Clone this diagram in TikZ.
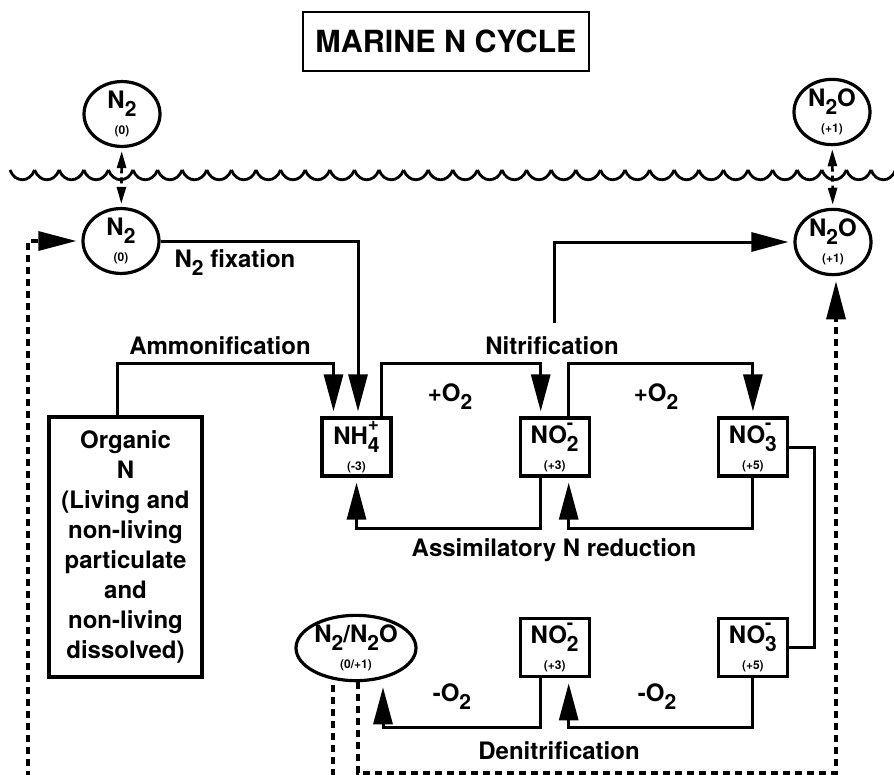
\documentclass[tikz,border=0pt]{standalone}
\usepackage{fontspec}
\setmainfont{TeX Gyre Heros}
\usepackage{tikz}
\usetikzlibrary{positioning}
\usetikzlibrary{shapes.geometric,arrows.meta}

\newcommand{\chem}[2]{#1\\[-4pt]{\fontsize{12}{12}\selectfont #2}}
\newcommand{\sub}[1]{\raisebox{-8pt}{\fontsize{21}{21}\selectfont #1}}
\newcommand{\ion}[2]{\rlap{\raisebox{14pt}{\fontsize{19}{19}\selectfont #2}}\sub{#1}}

\begin{document}
\begin{tikzpicture}[x=1pt, y=-1pt, font=\bfseries\fontsize{24}{30}\selectfont,
    main/.style = {draw, rectangle, line width=3.2pt, minimum width=69pt, minimum height=58pt, inner sep=0pt, align=center},
    gas/.style = {draw, ellipse, line width=3.2pt, minimum width=76pt, minimum height=56pt, inner sep=0pt, align=center},
    proc/.style = {inner sep=0pt},
    conn/.style = {line width=3pt},
    flow/.style = {line width=3pt, -{Triangle[length=37pt,width=19pt]}, shorten >=5pt},
    dline/.style = {line width=3.2pt, dash pattern=on 7pt off 5pt},
    dflow/.style = {dline, -{Triangle[length=38pt,width=19pt]}, shorten >=5pt},
    exch/.style = {line width=2.6pt, dash pattern=on 6pt off 4pt, {Triangle[length=17pt,width=9pt]}-{Triangle[length=17pt,width=9pt]}, shorten <=3pt, shorten >=3pt}]
\useasboundingbox (0,0) rectangle (894,774);
% Sea surface
\foreach \i [evaluate=\i as \wx using 10+24.6*\i] in {0,...,35}
    \draw[line width=2.8pt] (\wx,170) .. controls (\wx+5,183) and (\wx+19.6,183) .. (\wx+24.6,170);
% Nodes
\node[draw, line width=2.8pt, minimum width=286pt, minimum height=59pt, font=\bfseries\fontsize{30.5}{32}\selectfont] (title) at (446,41.5) {MARINE N CYCLE};
\node[gas, minimum height=54pt] (n2up) at (122,114) {\chem{N\sub{2}}{(0)}};
\node[gas, minimum height=54pt] (n2oup) at (832,112) {\chem{N\sub{2}O}{(+1)}};
\node[gas, minimum height=59pt] (n2) at (121,241) {\chem{N\sub{2}}{(0)}};
\node[gas, minimum height=59pt] (n2o) at (833,242) {\chem{N\sub{2}O}{(+1)}};
\node[main] (nh4) at (356.5,447) {\chem{NH\ion{4}{+}}{(-3)}};
\node[main] (no2) [right=126pt of nh4] {\chem{NO\ion{2}{-}}{(+3)}};
\node[main] (no3) [right=126pt of no2] {\chem{NO\ion{3}{-}}{(+5)}};
\node[main] (no2d) [below=139.5pt of no2] {\chem{NO\ion{2}{-}}{(+3)}};
\node[main] (no3d) [below=139.5pt of no3] {\chem{NO\ion{3}{-}}{(+5)}};
\node[gas, minimum width=120pt, minimum height=60pt] (n2mix) at (356,648) {\chem{N\sub{2}/N\sub{2}O}{(0/+1)}};
\node[main, minimum width=153pt, minimum height=260pt] (org) at (125.5,547) {Organic\\N\\(Living and\\non-living\\particulate\\and\\non-living\\dissolved)};
% Labels
\node[proc] (ammon) at (220,346) {Ammonification};
\node[proc] (nitr) at (552,346) {Nitrification};
\node[proc] (fix) at (235,263) {N\sub{2} fixation};
\node[proc] (ox1) at (450,397) {+O\sub{2}};
\node[proc] (ox2) at (656,397) {+O\sub{2}};
\node[proc] (assim) at (554,550) {Assimilatory N reduction};
\node[proc] (red1) at (452,697) {-O\sub{2}};
\node[proc] (red2) at (657,697) {-O\sub{2}};
\node[proc] (denit) at (559,751) {Denitrification};
\coordinate (nitrtop) at (554,323);
\coordinate (leftend) at (28,790);
\coordinate (mixend) at (333,790);
\coordinate (botcorner) at (836,773);
% Edges
\draw[exch] (n2up) -- (n2);
\draw[exch] (n2oup) -- (n2o);
\draw[flow] (n2.east) -| ([xshift=1.5pt]nh4.north);
\draw[flow] ([xshift=-8pt]org.north) -- ++(0,-52) -| ([xshift=-23pt]nh4.north);
\draw[flow] ([xshift=25pt]nh4.north) -- ++(0,-53) -| ([xshift=-14pt]no2.north);
\draw[flow] ([xshift=14pt]no2.north) -- ++(0,-53) -| (no3.north);
\draw[flow] (nitrtop) |- (n2o.west);
\draw[flow] ([xshift=-14pt]no2.south) -- ++(0,51) -| (nh4.south);
\draw[flow] (no3.south) -- ++(0,51) -| ([xshift=14pt]no2.south);
\draw[conn] (no3.east) -- ++(25,0) |- (no3d.east);
\draw[flow] (no3d.south) -- ++(0,49) -| ([xshift=14pt]no2d.south);
\draw[flow] ([xshift=-14pt]no2d.south) -- ++(0,49) -| ([xshift=27pt]n2mix.south);
\draw[dflow] (leftend) |- (n2.west);
\draw[dline] ([xshift=-23pt,yshift=-3pt]n2mix.south) -- (mixend);
\draw[dflow] ([xshift=2pt]n2mix.south) |- (botcorner) -- (botcorner |- n2o.south);
\end{tikzpicture}
\end{document}
